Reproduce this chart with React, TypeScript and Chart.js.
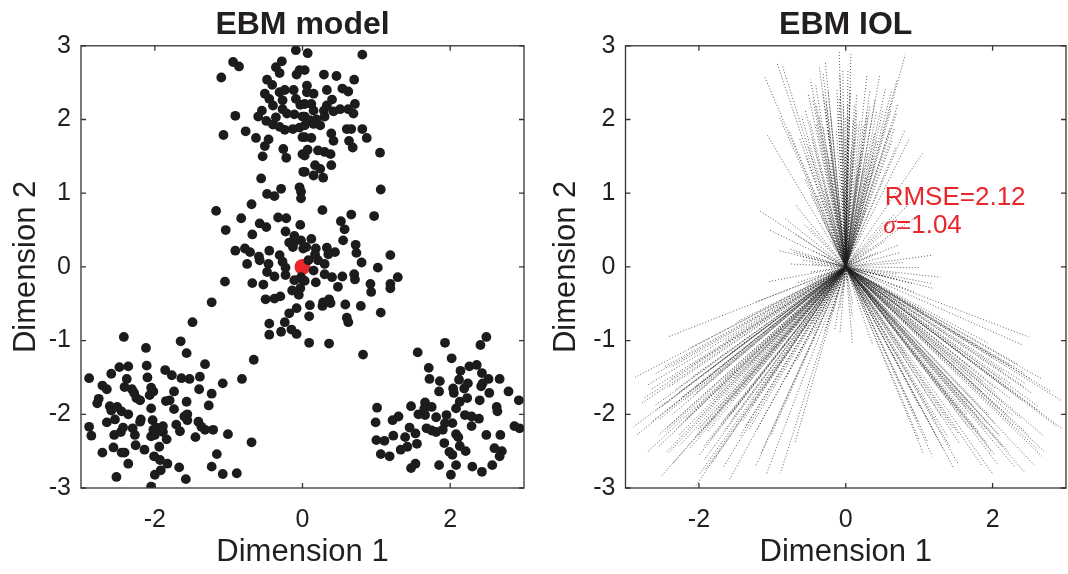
import { useEffect, useRef } from 'react';
import { Chart, registerables } from 'chart.js';

Chart.register(...registerables);

const FONT = '"Liberation Sans", Arial, Helvetica, sans-serif';
const INK = '#231f20';
const RED = '#e8262b';

// Axis layout
const axisMin = -3;
const axisMax = 3;
const xTickValues = [-2, 0, 2];
const yTickValues = [-3, -2, -1, 0, 1, 2, 3];

// Embedding coordinates (Dimension 1, Dimension 2), grouped by cluster
const clusterTop: [number, number][] = [
  [-0.94, 2.78], [-0.86, 2.72], [-1.10, 2.57], [-0.91, 2.05], [-1.07, 1.79], [-0.77, 1.84],
  [-0.63, 1.75], [-0.46, 1.73], [-0.51, 1.64], [-0.54, 1.50], [-0.56, 1.20], [-0.09, 2.94],
  [-0.28, 2.79], [-0.36, 2.71], [-0.31, 2.63], [-0.04, 2.67], [-0.08, 2.61], [-0.48, 2.54],
  [-0.41, 2.47], [-0.12, 2.40], [-0.51, 2.35], [-0.45, 2.28], [-0.31, 2.37], [-0.24, 2.40],
  [-0.27, 2.26], [-0.09, 2.28], [-0.03, 2.20], [-0.40, 2.19], [-0.27, 2.14], [-0.55, 2.12],
  [-0.60, 2.04], [-0.49, 1.98], [-0.36, 2.03], [-0.21, 2.08], [-0.11, 2.07], [0.00, 2.04],
  [-0.40, 1.93], [-0.31, 1.90], [-0.24, 1.86], [-0.13, 1.87], [-0.04, 1.89], [0.00, 1.76],
  [-0.26, 1.60], [-0.22, 1.48], [0.00, 1.53], [0.01, 1.29],
  [0.07, 2.90], [0.81, 2.88], [0.03, 2.67], [0.29, 2.61], [0.46, 2.59], [0.70, 2.54],
  [0.06, 2.46], [0.06, 2.37], [0.15, 2.35], [0.33, 2.40], [0.54, 2.42], [0.62, 2.38],
  [0.03, 2.21], [0.12, 2.21], [0.40, 2.27], [0.33, 2.19], [0.71, 2.21], [0.15, 2.12],
  [0.29, 2.12], [0.42, 2.11], [0.51, 2.14], [0.62, 2.14], [0.69, 2.08], [0.03, 2.04],
  [0.10, 1.99], [0.19, 2.00], [0.30, 2.04], [0.03, 1.92], [0.15, 1.94], [0.24, 1.92],
  [0.60, 1.87], [0.66, 1.87], [0.81, 1.87], [0.03, 1.76], [0.12, 1.75], [0.39, 1.81],
  [0.42, 1.71], [0.63, 1.71], [0.87, 1.75], [0.68, 1.62], [1.05, 1.55], [0.07, 1.59],
  [0.03, 1.51], [0.21, 1.58], [0.30, 1.56], [0.38, 1.53], [0.39, 1.38], [0.17, 1.38],
  [0.24, 1.33], [0.15, 1.24], [0.28, 1.21], [0.03, 1.29],
  [-0.29, 1.06], [-0.04, 1.08], [-0.02, 1.02], [-0.48, 0.99], [-0.38, 0.96], [-0.02, 0.93],
  [1.06, 1.05],
];

const clusterCentre: [number, number][] = [
  [-0.69, 0.85], [-1.17, 0.76], [-0.83, 0.66], [-0.33, 0.67], [-0.22, 0.66], [-0.58, 0.59],
  [-0.49, 0.54], [-1.04, 0.50], [-0.68, 0.44], [-0.03, 0.57], [-0.23, 0.48], [-0.11, 0.42],
  [-0.18, 0.33], [-0.11, 0.34], [-0.13, 0.27], [0.01, 0.25], [-0.02, 0.36], [-0.91, 0.22],
  [-0.78, 0.25], [-0.71, 0.20], [-0.59, 0.14], [-0.58, 0.09], [-0.45, 0.22], [-0.31, 0.16],
  [-0.75, 0.04], [-0.46, 0.04], [-0.48, -0.07], [-0.27, 0.07], [-0.23, -0.01], [-0.38, -0.13],
  [-0.23, -0.11], [-0.11, -0.18], [-0.02, -0.14], [0.01, -0.18], [-1.05, -0.20], [-0.68, -0.22],
  [-0.53, -0.24], [-0.14, -0.32], [-0.05, -0.38], [-0.03, -0.29], [-1.23, -0.48], [-0.50, -0.44],
  [-0.38, -0.43], [-0.30, -0.40], [-0.08, -0.56], [-0.18, -0.63], [-1.49, -0.75], [-0.45, -0.77],
  [-0.24, -0.75],
  [0.27, 0.77], [0.66, 0.71], [0.97, 0.69], [0.52, 0.62], [0.57, 0.51], [0.55, 0.36],
  [0.12, 0.38], [0.05, 0.27], [0.18, 0.25], [0.17, 0.17], [0.33, 0.26], [0.35, 0.17],
  [0.44, 0.20], [0.72, 0.30], [0.73, 0.19], [0.80, 0.06], [1.19, 0.16], [0.08, 0.09],
  [0.21, 0.09], [0.30, 0.04], [0.15, -0.05], [0.30, -0.10], [0.40, -0.14], [0.54, -0.13],
  [0.70, -0.10], [0.71, -0.17], [1.02, -0.01], [1.29, -0.14], [0.03, -0.19], [0.18, -0.21],
  [0.48, -0.27], [0.92, -0.23], [0.93, -0.34], [1.19, -0.23], [1.19, -0.29], [0.10, -0.52],
  [0.28, -0.48], [0.27, -0.53], [0.36, -0.44], [0.38, -0.49], [0.58, -0.51], [0.79, -0.53],
  [1.06, -0.62], [0.09, -0.67], [0.60, -0.69], [0.62, -0.75],
  [-0.45, -0.92], [-0.29, -0.88], [-0.15, -0.85], [-0.08, -0.91],
  [0.09, -1.03], [0.36, -1.04], [0.82, -1.19],
];

const clusterLowerLeft: [number, number][] = [
  [-2.42, -0.95], [-1.65, -1.01], [-2.12, -1.10], [-1.57, -1.17], [-0.66, -1.26], [-0.82, -1.52],
  [-1.08, -1.58], [-1.32, -1.32], [-2.48, -1.36], [-2.36, -1.35], [-2.11, -1.34], [-2.59, -1.45],
  [-2.89, -1.51], [-2.38, -1.52], [-2.10, -1.50], [-1.86, -1.40], [-1.77, -1.47], [-1.64, -1.51],
  [-1.53, -1.52], [-1.39, -1.49], [-2.71, -1.61], [-2.65, -1.66], [-2.41, -1.63], [-2.31, -1.66],
  [-2.28, -1.71], [-2.05, -1.64], [-2.02, -1.69], [-2.07, -1.74], [-1.74, -1.69], [-1.40, -1.66],
  [-1.23, -1.72], [-2.76, -1.79], [-2.78, -1.85], [-2.61, -1.89], [-2.59, -1.95], [-2.51, -1.90],
  [-2.45, -1.96], [-2.36, -2.00], [-2.25, -1.78], [-2.20, -1.81], [-2.05, -1.92], [-1.85, -1.82],
  [-1.80, -1.81], [-1.74, -1.93], [-1.57, -1.83], [-1.56, -2.00], [-1.60, -2.03], [-1.27, -1.88],
  [-2.65, -2.11], [-2.54, -2.07], [-2.89, -2.17], [-2.86, -2.29], [-2.43, -2.18], [-2.46, -2.24],
  [-2.19, -2.07], [-2.20, -2.10], [-2.03, -2.08], [-1.98, -2.18], [-2.02, -2.21], [-1.89, -2.16],
  [-1.89, -2.24], [-2.30, -2.19], [-2.27, -2.28], [-2.26, -2.42], [-2.55, -2.28], [-2.05, -2.30],
  [-2.00, -2.28], [-1.84, -2.34], [-1.71, -2.14], [-1.66, -2.23], [-1.56, -2.08], [-1.41, -2.10],
  [-1.37, -2.17], [-1.32, -2.21], [-1.21, -2.21], [-1.45, -2.31], [-1.01, -2.27], [-0.69, -2.38],
  [-2.56, -2.45], [-2.71, -2.52], [-2.45, -2.52], [-2.41, -2.52], [-2.36, -2.67], [-2.14, -2.48],
  [-2.01, -2.57], [-1.93, -2.62], [-1.83, -2.67], [-2.00, -2.82], [-1.92, -2.76], [-2.52, -2.85],
  [-2.05, -2.98], [-1.67, -2.72], [-1.58, -2.88], [-1.23, -2.71], [-1.16, -2.54], [-1.08, -2.81],
  [-0.89, -2.80], [-1.94, -2.44],
];

const clusterLowerRight: [number, number][] = [
  [1.93, -1.03], [2.49, -0.95], [2.41, -1.06], [1.56, -1.16], [2.02, -1.24], [1.71, -1.37],
  [1.72, -1.52], [1.86, -1.55], [1.85, -1.69], [2.14, -1.41], [2.12, -1.53], [2.26, -1.35],
  [2.36, -1.33], [2.43, -1.44], [2.44, -1.58], [2.52, -1.52], [2.42, -1.62], [2.67, -1.52],
  [2.79, -1.69], [2.93, -1.81], [2.04, -1.65], [2.05, -1.71], [2.19, -1.65], [2.24, -1.58],
  [2.53, -1.71], [2.40, -1.81], [2.23, -1.78], [2.13, -1.83], [2.08, -1.92], [2.63, -1.90],
  [2.64, -1.96], [1.01, -1.91], [1.47, -1.89], [1.66, -1.84], [1.65, -1.92], [1.75, -1.90],
  [1.57, -2.00], [1.66, -2.01], [1.81, -2.04], [1.95, -2.01], [1.93, -2.12], [2.03, -2.12],
  [2.20, -2.01], [2.29, -2.03], [2.39, -2.06], [2.29, -2.16], [1.22, -2.08], [1.30, -2.03],
  [0.99, -2.11], [1.45, -2.18], [1.68, -2.19], [1.75, -2.22], [1.81, -2.24], [1.90, -2.21],
  [1.53, -2.26], [2.08, -2.27], [2.11, -2.31], [2.49, -2.28], [2.68, -2.28], [2.87, -2.16],
  [2.94, -2.19], [1.00, -2.35], [1.11, -2.36], [1.23, -2.29], [1.39, -2.31], [1.42, -2.44],
  [1.55, -2.40], [1.33, -2.48], [1.06, -2.54], [1.18, -2.57], [1.92, -2.39], [1.99, -2.51],
  [2.03, -2.55], [2.13, -2.43], [2.21, -2.50], [2.60, -2.46], [2.70, -2.50], [2.67, -2.57],
  [1.47, -2.73], [1.53, -2.67], [1.85, -2.69], [2.08, -2.69], [2.01, -2.82], [2.30, -2.71],
  [2.43, -2.78], [2.57, -2.69],
];

// Reference (origin) point of the model, drawn in red
const originPoint: [number, number] = [0, 0];

// Fit statistics shown on the IOL panel
const rmseText = 'RMSE=2.12';
const sigmaSymbol = 'σ';
const sigmaText = '=1.04';
const rmseAnchor: [number, number] = [0.53, 0.84];
const sigmaAnchor: [number, number] = [0.51, 0.46];

const allPoints = [...clusterTop, ...clusterCentre, ...clusterLowerLeft, ...clusterLowerRight];

// MATLAB-style box with inward tick marks on all four sides
const boxPlugin = {
  id: 'boxAxes',
  afterDraw(chart: any) {
    const { ctx, chartArea: a, scales } = chart;
    const x = scales.x;
    const y = scales.y;
    const L = 5;
    ctx.save();
    ctx.strokeStyle = '#333333';
    ctx.lineWidth = 1.3;
    ctx.beginPath();
    for (const t of x.ticks) {
      const px = x.getPixelForValue(t.value);
      ctx.moveTo(px, a.bottom);
      ctx.lineTo(px, a.bottom - L);
      ctx.moveTo(px, a.top);
      ctx.lineTo(px, a.top + L);
    }
    for (const t of y.ticks) {
      const py = y.getPixelForValue(t.value);
      ctx.moveTo(a.left, py);
      ctx.lineTo(a.left + L, py);
      ctx.moveTo(a.right, py);
      ctx.lineTo(a.right - L, py);
    }
    ctx.stroke();
    ctx.strokeRect(a.left, a.top, a.right - a.left, a.bottom - a.top);
    ctx.restore();
  },
};

const statsPlugin = {
  id: 'fitStats',
  afterDatasetsDraw(chart: any) {
    const { ctx, scales } = chart;
    const x = scales.x;
    const y = scales.y;
    ctx.save();
    ctx.fillStyle = RED;
    ctx.textAlign = 'left';
    ctx.textBaseline = 'alphabetic';
    ctx.font = `26px ${FONT}`;
    ctx.fillText(rmseText, x.getPixelForValue(rmseAnchor[0]), y.getPixelForValue(rmseAnchor[1]));
    const sx = x.getPixelForValue(sigmaAnchor[0]);
    const sy = y.getPixelForValue(sigmaAnchor[1]);
    ctx.font = `italic 26px "Liberation Serif", "Times New Roman", serif`;
    ctx.fillText(sigmaSymbol, sx, sy);
    const w = ctx.measureText(sigmaSymbol).width;
    ctx.font = `26px ${FONT}`;
    ctx.fillText(sigmaText, sx + w, sy);
    ctx.restore();
  },
};

function buildScales(yAxisWidth: number) {
  const tickFont = { family: FONT, size: 25 };
  const titleFont = { family: FONT, size: 31 };
  return {
    x: {
      type: 'linear' as const,
      min: axisMin,
      max: axisMax,
      afterBuildTicks: (s: any) => {
        s.ticks = xTickValues.map((v) => ({ value: v }));
      },
      grid: { display: false, drawTicks: false },
      border: { display: false },
      ticks: { font: tickFont, color: INK, padding: 17, maxRotation: 0, autoSkip: false },
      title: { display: true, text: 'Dimension 1', font: titleFont, color: INK, padding: { top: 0, bottom: 3 } },
      afterFit: (s: any) => {
        s.height = 86;
      },
    },
    y: {
      type: 'linear' as const,
      min: axisMin,
      max: axisMax,
      afterBuildTicks: (s: any) => {
        s.ticks = yTickValues.map((v) => ({ value: v }));
      },
      grid: { display: false, drawTicks: false },
      border: { display: false },
      ticks: { font: tickFont, color: INK, padding: 10, autoSkip: false },
      title: { display: true, text: 'Dimension 2', font: titleFont, color: INK, padding: { top: 8, bottom: 0 } },
      afterFit: (s: any) => {
        s.width = yAxisWidth;
      },
    },
  };
}

function titleOptions(text: string) {
  return {
    display: true,
    text,
    fullSize: false,
    color: INK,
    font: { family: FONT, size: 32, weight: 'bold' as const, lineHeight: 1.15 },
    padding: { top: 7, bottom: 2 },
  };
}

export default function App() {
  const leftRef = useRef<HTMLCanvasElement>(null);
  const rightRef = useRef<HTMLCanvasElement>(null);

  useEffect(() => {
    const modelChart = new Chart(leftRef.current as HTMLCanvasElement, {
      type: 'scatter',
      data: {
        datasets: [
          {
            data: allPoints.map(([x, y]) => ({ x, y })),
            backgroundColor: '#1e1b1c',
            borderWidth: 0,
            pointRadius: 4.9,
          },
          {
            data: [{ x: originPoint[0], y: originPoint[1] }],
            backgroundColor: RED,
            borderWidth: 0,
            pointRadius: 8,
          },
        ],
      },
      options: {
        responsive: false,
        animation: false,
        devicePixelRatio: 1,
        layout: { padding: { left: 0, right: 16, top: 0, bottom: 0 } },
        plugins: {
          legend: { display: false },
          tooltip: { enabled: false },
          title: titleOptions('EBM model'),
        },
        scales: buildScales(81) as any,
      },
      plugins: [boxPlugin],
    });

    const iolChart = new Chart(rightRef.current as HTMLCanvasElement, {
      type: 'scatter',
      data: {
        datasets: allPoints.map(([x, y], i) => ({
          data: [
            { x: originPoint[0], y: originPoint[1] },
            { x, y },
          ],
          showLine: true,
          borderColor: 'rgba(30,30,30,0.7)',
          borderWidth: 1,
          borderDash: [1, 2],
          borderDashOffset: i % 3,
          pointRadius: 0,
          fill: false,
        })),
      },
      options: {
        responsive: false,
        animation: false,
        devicePixelRatio: 1,
        layout: { padding: { left: 0, right: 2, top: 0, bottom: 0 } },
        plugins: {
          legend: { display: false },
          tooltip: { enabled: false },
          title: titleOptions('EBM IOL'),
        },
        scales: buildScales(85.5) as any,
      },
      plugins: [boxPlugin, statsPlugin],
    });

    return () => {
      modelChart.destroy();
      iolChart.destroy();
    };
  }, []);

  return (
    <div style={{ position: 'fixed', left: 0, top: 0, width: 1068, height: 574, background: '#ffffff' }}>
      <canvas
        ref={leftRef}
        width={540}
        height={574}
        style={{ position: 'absolute', left: 0, top: 0, width: 540, height: 574 }}
      />
      <canvas
        ref={rightRef}
        width={528}
        height={574}
        style={{ position: 'absolute', left: 540, top: 0, width: 528, height: 574 }}
      />
    </div>
  );
}
